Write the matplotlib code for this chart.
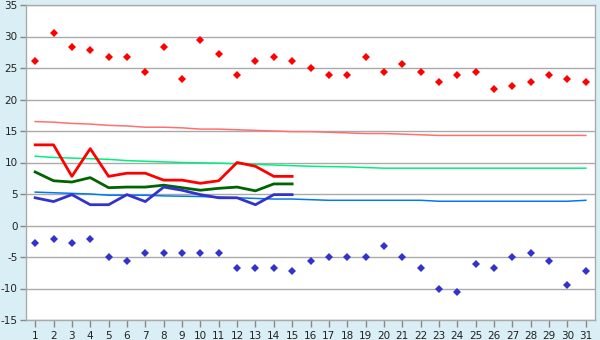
import matplotlib
matplotlib.use("Agg")
import matplotlib.pyplot as plt

plt.rcParams['axes.unicode_minus'] = False
plt.rcParams['font.family'] = ['DejaVu Sans']

days = list(range(1, 32))
record_high = [26.1, 30.6, 28.3, 27.8, 26.7, 26.7, 24.4, 28.3, 23.3, 29.4, 27.2, 23.9, 26.1, 26.7, 26.1,
               25.0, 23.9, 23.9, 26.7, 24.4, 25.6, 24.4, 22.8, 23.9, 24.4, 21.7, 22.2, 22.8, 23.9, 23.3, 22.8]
record_low = [-2.8, -2.2, -2.8, -2.2, -5.0, -5.6, -4.4, -4.4, -4.4, -4.4, -4.4, -6.7, -6.7, -6.7, -7.2,
              -5.6, -5.0, -5.0, -5.0, -3.3, -5.0, -6.7, -10.0, -10.6, -6.1, -6.7, -5.0, -4.4, -5.6, -9.4, -7.2]
normal_high = [16.5, 16.4, 16.2, 16.1, 15.9, 15.8, 15.6, 15.6, 15.5, 15.3, 15.3, 15.2, 15.1, 15.0, 14.9,
               14.9, 14.8, 14.7, 14.6, 14.6, 14.5, 14.4, 14.3, 14.3, 14.3, 14.3, 14.3, 14.3, 14.3, 14.3, 14.3]
normal_mean = [11.0, 10.8, 10.7, 10.6, 10.5, 10.3, 10.2, 10.1, 10.0, 9.95, 9.9, 9.8, 9.7, 9.6, 9.5,
               9.4, 9.35, 9.3, 9.2, 9.1, 9.1, 9.1, 9.1, 9.1, 9.1, 9.1, 9.1, 9.1, 9.1, 9.1, 9.1]
normal_low = [5.3, 5.2, 5.1, 5.0, 4.8, 4.8, 4.8, 4.7, 4.65, 4.6, 4.5, 4.4, 4.3, 4.2, 4.2,
              4.1, 4.0, 4.0, 4.0, 4.0, 4.0, 4.0, 3.85, 3.85, 3.85, 3.85, 3.85, 3.85, 3.85, 3.85, 4.0]

obs_days = list(range(1, 16))
obs_high = [12.8, 12.8, 7.8, 12.2, 7.8, 8.3, 8.3, 7.2, 7.2, 6.7, 7.1, 10.0, 9.4, 7.8, 7.8]
obs_mean = [8.5, 7.1, 6.9, 7.6, 6.0, 6.1, 6.1, 6.4, 6.0, 5.6, 5.9, 6.1, 5.5, 6.6, 6.6]
obs_low = [4.4, 3.8, 4.9, 3.3, 3.3, 4.9, 3.8, 6.1, 5.6, 4.9, 4.4, 4.4, 3.3, 4.9, 4.9]

y_ticks = [-15, -10, -5, 0, 5, 10, 15, 20, 25, 30, 35]

bg = '#daeef5'
fig = plt.figure(figsize=(6, 3.4), dpi=100, facecolor=bg)
ax = fig.add_axes([26/600, 20/340, 569/600, 315/340])
ax.set_facecolor('white')

ax.set_xlim(0.5, 31.5)
ax.set_ylim(-15, 35)
ax.set_yticks(y_ticks)
ax.set_xticks(days)
ax.yaxis.grid(True, color='#aaaaaa', linewidth=1.0)
ax.set_axisbelow(True)

for s in ax.spines.values():
    s.set_color('#aaaaaa')
    s.set_linewidth(1.0)

ax.tick_params(axis='both', colors='#888888', labelcolor='#222222', labelsize=7.5, length=5, width=1)
ax.tick_params(axis='y', length=4, pad=2)
ax.tick_params(axis='x', pad=3)

ax.plot(days, normal_high, color='#ff7070', lw=1.1)
ax.plot(days, normal_mean, color='#00f080', lw=1.1)
ax.plot(days, normal_low, color='#0078f0', lw=1.1)

ax.plot(obs_days, obs_high, color='#ff0000', lw=2.0)
ax.plot(obs_days, obs_mean, color='#006400', lw=2.0)
ax.plot(obs_days, obs_low, color='#3333cc', lw=2.0)

ax.plot(days, record_high, linestyle='none', marker='D', markersize=3.6, markeredgewidth=0, color='#ff0000')
ax.plot(days, record_low, linestyle='none', marker='D', markersize=3.6, markeredgewidth=0, color='#3333cc')

fig.savefig('out.png', dpi=100, facecolor=bg)
